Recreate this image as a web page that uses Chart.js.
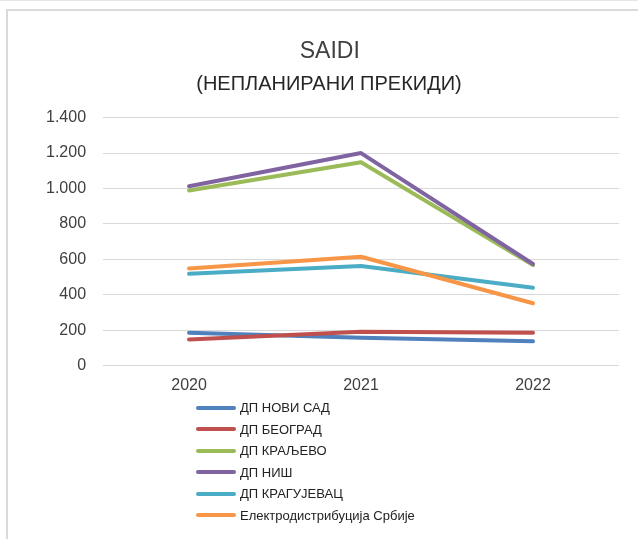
<!DOCTYPE html>
<html>
<head>
<meta charset="utf-8">
<script src="https://cdn.jsdelivr.net/npm/chart.js@4"></script>
<style>
    body { margin: 0; background: #fff; }
    #wrap { position: relative; width: 638px; height: 539px; overflow: hidden; }
    #topline { position: absolute; left: 0; top: 0; width: 638px; height: 1px; background: #e6e6e6; }
    #frame { position: absolute; left: 6px; top: 9px; width: 700px; height: 600px;
             border-left: 2px solid #dadada; border-top: 2px solid #dadada; }
    canvas { position: absolute; left: 0; top: 0; }
    #legend { position: absolute; left: 196px; top: 397px; font-family: "Liberation Sans", Arial, sans-serif;
              font-size: 13px; color: #222; }
    #legend .item { height: 21.5px; display: flex; align-items: center; }
    #legend .swatch { width: 40px; height: 4px; border-radius: 2px; margin-right: 4px; }
</style>
</head>
<body>
<div id="wrap">
    <div id="topline"></div>
    <div id="frame"></div>
    <canvas id="saidiChart" width="638" height="539"></canvas>
    <div id="legend"></div>
</div>
<script>
// podaci sa grafika
const years = ['2020', '2021', '2022'];
const seriesNames = ['ДП НОВИ САД', 'ДП БЕОГРАД', 'ДП КРАЉЕВО', 'ДП НИШ', 'ДП КРАГУЈЕВАЦ', 'Електродистрибуција Србије'];
const noviSad = [186, 158, 138];
const beograd = [149, 192, 186];
const kraljevo = [989, 1148, 568];
const nis = [1013, 1200, 574];
const kragujevac = [519, 563, 440];
const eds = [549, 615, 353];
const yTicks = [0, 200, 400, 600, 800, 1000, 1200, 1400];

const seriesColors = ['#4F81BD', '#C0504D', '#9BBB59', '#8064A2', '#4BACC6', '#F79646'];
const allValues = [noviSad, beograd, kraljevo, nis, kragujevac, eds];
const fontFamily = '"Liberation Sans", Arial, sans-serif';

// formatiranje brojeva sa tačkom
function formatNumber(v) {
    return String(v).replace(/\B(?=(\d{3})+(?!\d))/g, '.');
}

const datasets = seriesNames.map((name, i) => ({
    label: name,
    data: allValues[i],
    borderColor: seriesColors[i],
    backgroundColor: seriesColors[i],
    borderWidth: 4,
    borderCapStyle: 'round',
    borderJoinStyle: 'round',
    pointRadius: 0,
    tension: 0,
    fill: false,
    order: seriesNames.length - i
}));

const ctx = document.getElementById('saidiChart').getContext('2d');
new Chart(ctx, {
    type: 'line',
    data: { labels: years, datasets: datasets },
    options: {
        responsive: false,
        animation: false,
        layout: { padding: { top: 38, left: 29, right: 19, bottom: 134 } },
        plugins: {
            legend: { display: false },
            tooltip: { enabled: false },
            title: {
                display: true,
                // en space ispred da se naslov malo pomeri udesno
                text: '\u2002SAIDI',
                color: '#404040',
                font: { family: fontFamily, size: 23, weight: 'normal' },
                padding: { top: 0, bottom: 7 }
            },
            subtitle: {
                display: true,
                text: '\u2002(НЕПЛАНИРАНИ ПРЕКИДИ)',
                color: '#262626',
                font: { family: fontFamily, size: 20, weight: 'normal' },
                padding: { top: 0, bottom: 21 }
            }
        },
        scales: {
            x: {
                offset: true,
                grid: { display: false, drawTicks: false },
                border: { display: false },
                ticks: { color: '#404040', padding: 10, font: { family: fontFamily, size: 16 } }
            },
            y: {
                min: 0,
                max: 1400,
                afterBuildTicks: axis => { axis.ticks = yTicks.map(v => ({ value: v })); },
                grid: { color: '#d9d9d9', lineWidth: 1, drawTicks: false },
                border: { display: false },
                ticks: {
                    color: '#404040',
                    padding: 17,
                    font: { family: fontFamily, size: 16 },
                    callback: v => formatNumber(v)
                }
            }
        }
    }
});

// legenda jedna ispod druge
const legendEl = document.getElementById('legend');
seriesNames.forEach((name, i) => {
    const item = document.createElement('div');
    item.className = 'item';
    item.innerHTML = '<span class="swatch" style="background:' + seriesColors[i] + '"></span><span>' + name + '</span>';
    legendEl.appendChild(item);
});
</script>
</body>
</html>
